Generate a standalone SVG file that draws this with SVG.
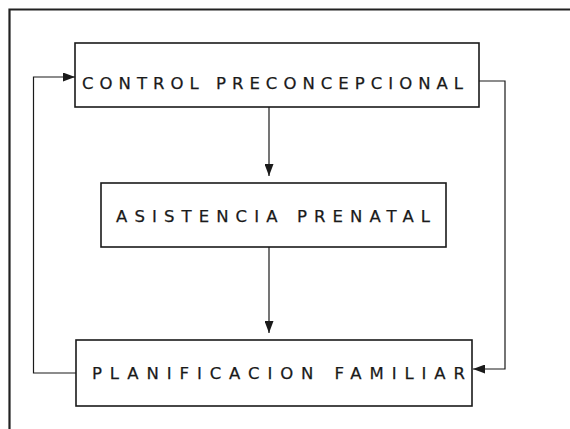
<svg xmlns="http://www.w3.org/2000/svg" width="570" height="429" viewBox="0 0 570 429">
<style>
.box{fill:#fff;stroke:#1a1a1a;stroke-width:1.6}
.lbl{font-family:"DejaVu Sans","Liberation Sans",Arial,sans-serif;font-size:16.5px;fill:#1a1a1a;stroke:#1a1a1a;stroke-width:0.25}
.con{fill:none;stroke:#1a1a1a;stroke-width:1.2}
</style>
<defs>
<marker id="ah" viewBox="0 0 12 9" refX="12" refY="4.5" markerWidth="12" markerHeight="9" markerUnits="userSpaceOnUse" orient="auto">
<path d="M0,0 L12,4.5 L0,9 Z" fill="#1a1a1a"/>
</marker>
</defs>
<rect width="570" height="429" fill="#fff"/>
<path d="M9.5,429 V9.5 H570" fill="none" stroke="#222" stroke-width="2.2"/>
<g id="connectors">
<path class="con" d="M269,107 V176" marker-end="url(#ah)"/>
<path class="con" d="M269,247 V333" marker-end="url(#ah)"/>
<path class="con" d="M76,373 H33.5 V77 H75" marker-end="url(#ah)"/>
<path class="con" d="M479,81 H505 V369 H473" marker-end="url(#ah)"/>
</g>
<g id="control">
<rect class="box" x="75" y="43" width="404" height="64"/>
<text class="lbl" x="82" y="89" textLength="381" lengthAdjust="spacing">CONTROL PRECONCEPCIONAL</text>
</g>
<g id="asistencia">
<rect class="box" x="101" y="183" width="345" height="64"/>
<text class="lbl" x="116" y="222" textLength="314" lengthAdjust="spacing">ASISTENCIA PRENATAL</text>
</g>
<g id="planificacion">
<rect class="box" x="76" y="340" width="396" height="66"/>
<text class="lbl" x="92" y="379" textLength="373" lengthAdjust="spacing">PLANIFICACION FAMILIAR</text>
</g>
</svg>
